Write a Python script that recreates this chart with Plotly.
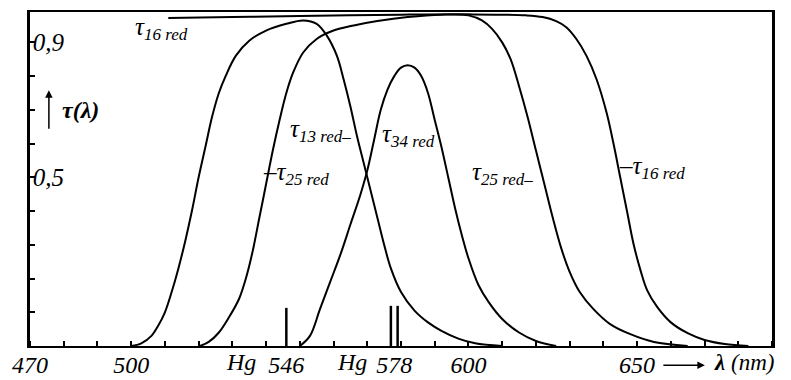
import plotly.graph_objects as go

# transmission curves (wavelength in nm, tau)
wl_13 = [500, 503, 506, 508, 510, 512, 514, 516, 518, 520, 522, 524, 526, 528, 531, 535, 540, 546, 551,
         555, 558, 561, 563, 565, 567, 569, 571, 573, 575, 577, 580, 584, 588, 592, 597, 602, 610]
tau_13 = [0, 0.008, 0.03, 0.06, 0.10, 0.16, 0.23, 0.31, 0.40, 0.50, 0.59, 0.68, 0.75, 0.80, 0.86, 0.905,
          0.935, 0.955, 0.965, 0.955, 0.92, 0.86, 0.79, 0.71, 0.62, 0.54, 0.46, 0.38, 0.30, 0.23, 0.16,
          0.105, 0.07, 0.045, 0.022, 0.008, 0]

wl_25 = [520.4, 523, 526, 529, 532, 534, 536, 538, 540, 542, 544, 546, 548, 551, 555, 560, 566, 573, 582,
         592, 600, 604, 607, 610, 612.5, 615, 617.5, 620, 622.5, 625, 627.5, 630, 633, 637, 642, 648,
         655, 665]
tau_25 = [0, 0.012, 0.04, 0.085, 0.14, 0.20, 0.28, 0.38, 0.48, 0.58, 0.67, 0.75, 0.81, 0.87, 0.91, 0.935,
          0.95, 0.963, 0.975, 0.982, 0.98, 0.965, 0.94, 0.90, 0.85, 0.77, 0.68, 0.58, 0.48, 0.38, 0.29,
          0.22, 0.16, 0.11, 0.065, 0.035, 0.012, 0]

wl_34 = [550, 553, 556, 559, 562, 565, 568, 570, 572, 574, 576, 578, 580, 582, 584, 586, 588, 590, 592,
         594, 596, 598, 600, 603, 606, 610, 615, 620, 626]
tau_34 = [0, 0.03, 0.11, 0.19, 0.27, 0.36, 0.45, 0.52, 0.61, 0.70, 0.76, 0.80, 0.825, 0.832, 0.825,
          0.80, 0.75, 0.67, 0.59, 0.50, 0.41, 0.33, 0.26, 0.18, 0.13, 0.08, 0.04, 0.015, 0]

wl_16 = [511, 530, 550, 580, 600, 617, 622, 626, 629, 632, 635, 638, 641, 643, 645, 647, 649, 651, 653,
         656, 660, 665, 670, 676, 683]
tau_16 = [0.972, 0.975, 0.978, 0.982, 0.983, 0.98, 0.975, 0.963, 0.945, 0.91, 0.86, 0.79, 0.69, 0.60,
          0.50, 0.40, 0.30, 0.225, 0.165, 0.115, 0.07, 0.038, 0.018, 0.006, 0]

# mercury lines
hg_wl = [546, 577, 579]
hg_height = [0.113, 0.119, 0.119]

x_labels = ["470", "500", "546", "578", "600", "650"]
x_label_pos = [470, 500, 546, 578, 600, 650]
y_labels = ["0,5", "0,9"]
y_label_pos = [0.5, 0.9]

FONT = "Liberation Serif"

fig = go.Figure()

for wl, tau in [(wl_13, tau_13), (wl_25, tau_25), (wl_34, tau_34), (wl_16, tau_16)]:
    fig.add_trace(go.Scatter(x=wl, y=tau, mode="lines",
                             line=dict(color="black", width=2, shape="spline", smoothing=1),
                             showlegend=False, hoverinfo="skip"))

hx, hy = [], []
for w, h in zip(hg_wl, hg_height):
    hx += [w, w, None]
    hy += [0, h, None]
fig.add_trace(go.Scatter(x=hx, y=hy, mode="lines", line=dict(color="black", width=2.5),
                         showlegend=False, hoverinfo="skip"))

lab_font = dict(family=FONT, size=25, color="black", style="italic")

def label(x, y, text, sub):
    fig.add_annotation(x=x, y=y, text=text.format("<sub><span style='font-size:17px'>" + sub + "</span></sub>"),
                       showarrow=False, xanchor="left", yanchor="middle", font=lab_font)

label(500.5, 0.94, "τ{}", "16 red")
label(546.5, 0.64, "τ{}", "13 red–")
label(538.6, 0.51, "–τ{}", "25 red")
label(573.8, 0.625, "τ{}", "34 red")
label(600.4, 0.51, "τ{}", "25 red–")
label(644.0, 0.53, "–τ{}", "16 red")

tick_font = dict(family=FONT, size=24, color="black", style="italic")

# "Hg" prefixes before the tick numbers
for xr in [537.6, 570.5]:
    fig.add_annotation(x=xr, y=-0.047, xref="x", yref="paper", text="Hg", showarrow=False,
                       xanchor="right", yanchor="middle", font=tick_font)

# x axis title with arrow
fig.add_annotation(x=670.1, y=-0.058, xref="x", yref="paper", text="", showarrow=True,
                   ax=-43, ay=0, arrowhead=2, arrowsize=1, arrowwidth=1.5, arrowcolor="black")
fig.add_annotation(x=672.2, y=-0.05, xref="x", yref="paper", text="<b>λ</b> (nm)", showarrow=False,
                   xanchor="left", yanchor="middle",
                   font=dict(family=FONT, size=23, color="black", style="italic"))

# y axis title with arrow
fig.add_annotation(x=475.6, y=0.758, text="", showarrow=True, ax=0, ay=40, arrowhead=2,
                   arrowsize=1, arrowwidth=1.5, arrowcolor="black")
fig.add_annotation(x=478.9, y=0.70, text="<b>τ(λ)</b>", showarrow=False, xanchor="left",
                   yanchor="middle", font=dict(family=FONT, size=24, color="black", style="italic"))

# the page body adds an 8px offset, so the figure is sized to fit the window
fig.update_layout(
    width=783, height=372,
    margin=dict(l=22, r=19, t=4, b=34),
    paper_bgcolor="white", plot_bgcolor="white",
    xaxis=dict(range=[470, 690], tickmode="array", tickvals=x_label_pos, ticktext=x_labels,
               ticks="", showgrid=False, zeroline=False, showline=True, linecolor="black",
               linewidth=2, mirror=True, automargin=False, tickfont=tick_font,
               ticklabeloverflow="allow", ticklabelstandoff=-4,
               minor=dict(ticks="inside", tick0=470, dtick=10, ticklen=5, tickcolor="black",
                          tickwidth=1.5, showgrid=False)),
    yaxis=dict(range=[0, 0.99], tickmode="array", tickvals=y_label_pos, ticktext=y_labels,
               ticks="inside", ticklen=5, tickwidth=1.5, tickcolor="black",
               ticklabelposition="inside", showgrid=False, zeroline=False, showline=True,
               linecolor="black", linewidth=2.5, mirror=True, automargin=False,
               ticklabeloverflow="allow",
               tickfont=dict(family=FONT, size=25, color="black", style="italic"),
               minor=dict(ticks="inside", tick0=0, dtick=0.1, ticklen=5, tickcolor="black",
                          tickwidth=1.5, showgrid=False)),
)

fig.write_html("out.html")
